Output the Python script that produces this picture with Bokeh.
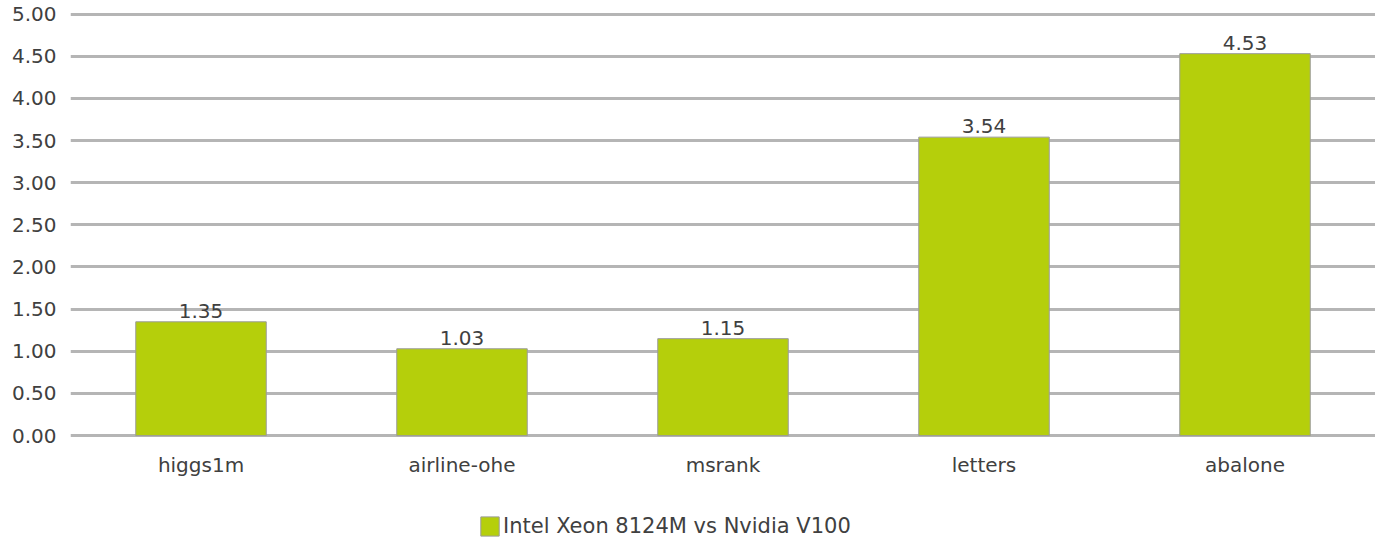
from bokeh.plotting import figure
from bokeh.models import (ColumnDataSource, FactorRange, Range1d, FixedTicker,
                          NumeralTickFormatter, Legend, LegendItem)
from bokeh.core.properties import value
from bokeh.embed import file_html
from bokeh.resources import INLINE

# Speed-up per dataset
datasets = ["higgs1m", "airline-ohe", "msrank", "letters", "abalone"]
speedup = [1.35, 1.03, 1.15, 3.54, 4.53]
series_name = "Intel Xeon 8124M vs Nvidia V100"
y_ticks = [0.0, 0.5, 1.0, 1.5, 2.0, 2.5, 3.0, 3.5, 4.0, 4.5, 5.0]

FONT = "DejaVu Sans"
TEXT_COLOR = "#404040"
BAR_COLOR = "#b5cf0b"

source = ColumnDataSource(dict(
    cat=datasets,
    val=speedup,
    txt=["%.2f" % v for v in speedup],
))

# the frame runs down to the bottom edge; the area under zero holds the
# category labels and the legend
p = figure(
    width=1375, height=538,
    x_range=FactorRange(*datasets, range_padding=0),
    y_range=Range1d(-1.22, 5.03),
    output_backend="svg", toolbar_location=None,
    min_border_left=70, min_border_right=0,
    min_border_top=11, min_border_bottom=0,
)
p.outline_line_color = None
p.background_fill_color = "white"
p.border_fill_color = "white"

bars = p.vbar(x="cat", top="val", width=0.5, source=source,
              fill_color=BAR_COLOR, line_color="#9c9c9c", line_width=1)

p.text(x="cat", y="val", text="txt", source=source,
       text_align="center", text_baseline="bottom", y_offset=-4,
       text_font=value(FONT), text_font_size="20px", text_color=TEXT_COLOR)

# axes
for ax in (p.xaxis[0], p.yaxis[0]):
    ax.axis_line_color = None
    ax.major_tick_line_color = None
    ax.minor_tick_line_color = None
    ax.major_tick_out = 0
    ax.major_tick_in = 0
    ax.major_label_text_font = FONT
    ax.major_label_text_font_size = "20px"
    ax.major_label_text_color = TEXT_COLOR

p.yaxis.ticker = FixedTicker(ticks=y_ticks)
p.yaxis.formatter = NumeralTickFormatter(format="0.00")
p.yaxis.major_label_standoff = 14
p.xaxis.fixed_location = 0
p.xaxis.major_label_standoff = 17

p.xgrid.grid_line_color = None
p.ygrid.grid_line_color = "#b5b5b5"
p.ygrid.grid_line_width = 3

legend = Legend(
    items=[LegendItem(label=series_name, renderers=[bars])],
    location=(408, 0), orientation="horizontal",
    glyph_width=23, glyph_height=24, label_height=24, label_standoff=2,
    padding=0, margin=0, spacing=0,
    border_line_alpha=0, background_fill_alpha=0,
    label_text_font=FONT, label_text_font_size="21px",
    label_text_color=TEXT_COLOR,
)
p.add_layout(legend)

open("out.html", "w").write(file_html(p, INLINE))
